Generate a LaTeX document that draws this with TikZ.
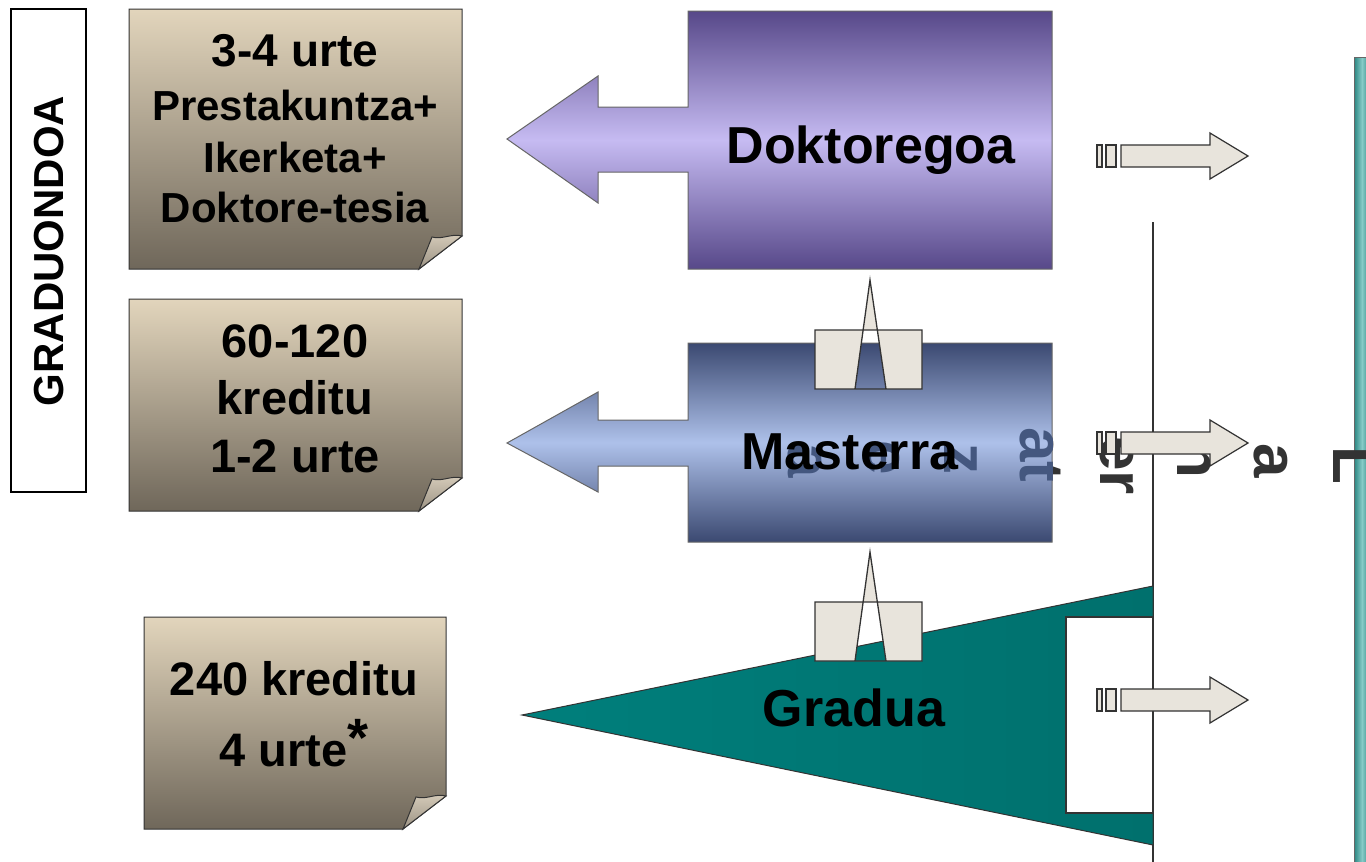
\documentclass[tikz,border=0pt]{standalone}
\usepackage{fontspec}
\setmainfont{Liberation Sans}
\definecolor{notetop}{HTML}{E2D5BC}
\definecolor{notebot}{HTML}{6F675A}
\definecolor{flaptop}{HTML}{D6CCBA}
\definecolor{flapbot}{HTML}{9C9384}
\definecolor{dokdark}{HTML}{574889}
\definecolor{doklight}{HTML}{C6BBF2}
\definecolor{masdark}{HTML}{3B4971}
\definecolor{maslight}{HTML}{AEC1EA}
\definecolor{tealA}{HTML}{007F7C}
\definecolor{tealB}{HTML}{00706D}
\definecolor{barA}{HTML}{2A8581}
\definecolor{barB}{HTML}{86CBC7}
\definecolor{arrfill}{HTML}{E8E4DC}
\definecolor{inkgray}{HTML}{333333}
\definecolor{ghost}{HTML}{44577F}
\tikzset{
  note/.style={draw=inkgray, line width=1pt, top color=notetop, bottom color=notebot},
  flap/.style={draw=inkgray, line width=1pt, top color=flaptop, bottom color=flapbot},
  lbl/.style={anchor=base, inner sep=0pt, font=\bfseries\fontsize{42}{50}\selectfont},
  lblbig/.style={anchor=base, inner sep=0pt, font=\bfseries\fontsize{47}{56}\selectfont},
  title/.style={inner sep=0pt, font=\bfseries\fontsize{52}{60}\selectfont},
  vl/.style={rotate=-90, anchor=base west, inner sep=0pt, font=\bfseries\fontsize{62}{62}\selectfont, text=inkgray},
  conn/.style={draw=inkgray, line width=1.3pt, fill=arrfill, even odd rule},
  rarrow/.style={draw=inkgray, line width=1.2pt, fill=arrfill},
}
\newcommand\mynote[4]{%
  \path[note] (#1,#2) -- (#3,#2) -- (#3,#4-33) -- (#3-43,#4) -- (#1,#4) -- cycle;
  \path[flap] (#3,#4-33) .. controls (#3-10,#4-36) and (#3-20,#4-29) .. (#3-30,#4-32) -- (#3-43,#4) -- cycle;
}
\newcommand\myrarrow[1]{%
  \path[rarrow] (1097,#1-11) rectangle (1102,#1+11);
  \path[rarrow] (1106,#1-11) rectangle (1116,#1+11);
  \path[rarrow] (1121,#1-11) -- (1210,#1-11) -- (1210,#1-23) -- (1248,#1) -- (1210,#1+23) -- (1210,#1+11) -- (1121,#1+11) -- cycle;
}
\begin{document}
\begin{tikzpicture}[x=1pt,y=-1pt]
\useasboundingbox (0,0) rectangle (1366,862);
\fill[white] (0,0) rectangle (1366,862);

% left label box
\draw[line width=1.2pt, draw=black, fill=white] (11,9) rectangle (86,492);
\node[rotate=90, inner sep=0pt, font=\bfseries\fontsize{42}{50}\selectfont] (grad) at (49,251) {GRADUONDOA};

% note boxes
\mynote{129}{9}{462}{269}
\mynote{129}{299}{462}{511}
\mynote{144}{617}{446}{829}

\node[lbl, font=\bfseries\fontsize{46}{50}\selectfont] (t1a) at (295,66) {3-4 urte};
\node[lbl] (t1b) at (295,120) {Prestakuntza+};
\node[lbl] (t1c) at (295,172) {Ikerketa+};
\node[lbl] (t1d) at (295,222) {Doktore-tesia};

\node[lblbig] (t2a) at (295,357) {60-120};
\node[lblbig] (t2b) at (295,414) {kreditu};
\node[lblbig] (t2c) at (295,472) {1-2 urte};

\node[lblbig] (t3a) at (294,695) {240 kreditu};
\node[lblbig] (t3b) at (294,766) {4 urte\raisebox{10pt}{\fontsize{54}{54}\selectfont *}};

% right teal bar and vertical line
\path[left color=barA, right color=barA, middle color=barB, draw=black!60] (1354,57) rectangle (1370,866);
\draw[line width=1.5pt, draw=inkgray] (1153,222) -- (1153,862);

% vertical letters
\node[vl] (c1) at (1333,446) {L};
\node[vl] (c2) at (1254,443) {a};
\node[vl] (c3) at (1177,440) {n};
\node[vl] (c4) at (1100,436) {er};
\node[vl] (c5) at (1020,427) {at};
\node[vl] (c6) at (944,443) {z};
\node[vl] (c7) at (866,440) {e};
\node[vl] (c8) at (788,443) {a};

% Doktoregoa
\path[draw=black!60, line width=1pt, top color=dokdark, bottom color=dokdark, middle color=doklight]
  (688,11) -- (1052,11) -- (1052,269) -- (688,269) -- (688,172) -- (598,172) -- (598,203)
  -- (507,139) -- (598,76) -- (598,107) -- (688,107) -- cycle;
\node[title] (dok) at (871,150) {Doktoregoa};

% Masterra
\path[draw=black!60, line width=1pt, top color=masdark, bottom color=masdark, middle color=maslight]
  (688,343) -- (1052,343) -- (1052,542) -- (688,542) -- (688,466) -- (598,466) -- (598,492)
  -- (507,443) -- (598,392) -- (598,420) -- (688,420) -- cycle;
\begin{scope}
  \clip (688,343) rectangle (1052,542);
  \node[vl, text=ghost] (g5) at (1020,427) {at};
  \node[vl, text=ghost] (g6) at (944,443) {z};
  \node[vl, text=ghost] (g7) at (866,440) {e};
  \node[vl, text=ghost] (g8) at (788,443) {a};
\end{scope}
\node[title] (mas) at (850,452) {Masterra};

% Gradua
\path[draw=inkgray, line width=1pt, left color=tealA, right color=tealB]
  (522,715) -- (1153,586) -- (1153,845) -- cycle;
\draw[line width=1.2pt, draw=inkgray, fill=white] (1066,617) rectangle (1153,813);
\node[title] (gra) at (854,708) {Gradua};

% connectors between levels
\path[conn] (815,330) rectangle (922,389) (855,389) -- (870,280) -- (886,389) -- cycle;
\path[conn] (815,602) rectangle (922,661) (855,661) -- (870,552) -- (886,661) -- cycle;

% right arrows
\myrarrow{156}
\myrarrow{443}
\myrarrow{700}
\end{tikzpicture}
\end{document}
